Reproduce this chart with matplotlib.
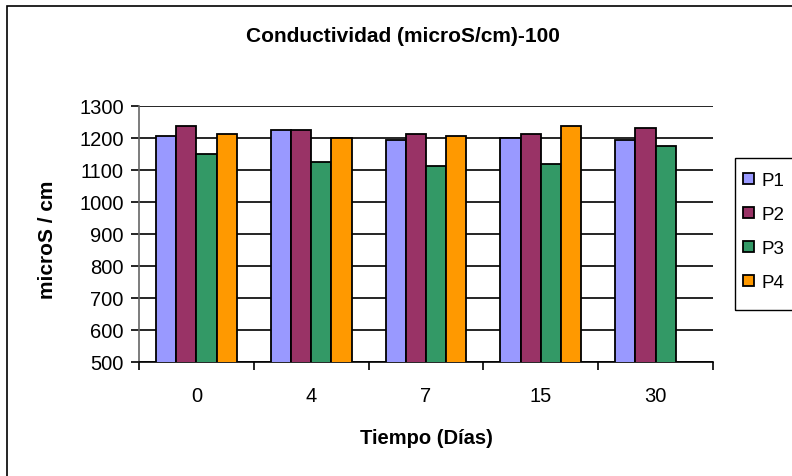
import numpy as np
import matplotlib
matplotlib.use("Agg")
import matplotlib.pyplot as plt
from matplotlib.patches import Rectangle

plt.rcParams["font.family"] = ["Liberation Sans", "DejaVu Sans"]

# datos
dias = ["0", "4", "7", "15", "30"]
p1 = [1206, 1226, 1195, 1201, 1194]
p2 = [1237, 1226, 1212, 1212, 1232]
p3 = [1150, 1125, 1112, 1120, 1175]
p4 = [1212, 1201, 1206, 1237, np.nan]
series = [("P1", p1, "#9999FF"), ("P2", p2, "#993366"),
          ("P3", p3, "#339966"), ("P4", p4, "#FF9900")]

W, H = 792, 477
fig = plt.figure(figsize=(W / 100, H / 100), dpi=100)

# marco del grafico
fig.patches.append(Rectangle((7 / W, -0.1), 1.2, 1 - 7 / H + 0.1,
                             transform=fig.transFigure, fill=False,
                             edgecolor="black", linewidth=1.2))
# marco de la leyenda
fig.patches.append(Rectangle((735 / W, 1 - 311 / H), 0.2, (311 - 159) / H,
                             transform=fig.transFigure, fill=False,
                             edgecolor="black", linewidth=1.0))

ax = fig.add_axes([139 / W, 1 - 363 / H, (713 - 139) / W, (363 - 107) / H])

x = np.arange(len(dias))
ancho = 0.176
for i, (nombre, vals, color) in enumerate(series):
    ax.bar(x + (i - 1.5) * ancho, vals, ancho, color=color,
           edgecolor="black", linewidth=1.3, label=nombre, zorder=3)

ax.set_xlim(-0.5, len(dias) - 0.5)
ax.set_ylim(500, 1300)
ax.set_yticks(range(500, 1301, 100))
ax.yaxis.grid(True, color="black", linewidth=1.2, zorder=0)

ax.set_xticks(x)
ax.set_xticklabels(dias, fontsize=14.5)
ax.set_xticks(np.arange(-0.5, len(dias)), minor=True)
ax.tick_params(axis="x", which="major", length=0, pad=17)
ax.tick_params(axis="x", which="minor", length=6, width=1.2, direction="out")
ax.tick_params(axis="y", length=6, width=1.2, labelsize=14.5, pad=5)

for lado in ["top", "right"]:
    ax.spines[lado].set_visible(False)
ax.spines["left"].set_color("#666666")
ax.spines["left"].set_linewidth(1.2)
ax.spines["bottom"].set_linewidth(1.2)

ax.set_ylabel("microS / cm", fontsize=15, fontweight="bold")
ax.yaxis.set_label_coords(-0.159, 0.48)
ax.set_xlabel("Tiempo (Días)", fontsize=14.5, fontweight="bold")
ax.xaxis.set_label_coords(0.5, -0.293)
ax.xaxis.label.set_va("center")
ax.yaxis.label.set_va("center")

fig.text(403 / W, 1 - 37 / H, "Conductividad (microS/cm)-100",
         ha="center", va="center", fontsize=15, fontweight="bold")

leg = fig.legend(loc="upper left", bbox_to_anchor=(735 / W, 1 - 165 / H),
                 fontsize=13.5, frameon=False,
                 handlelength=0.55, handleheight=0.55,
                 handletextpad=0.4, labelspacing=0.9, borderpad=0.45,
                 borderaxespad=0)

fig.savefig("out.png", dpi=100)
